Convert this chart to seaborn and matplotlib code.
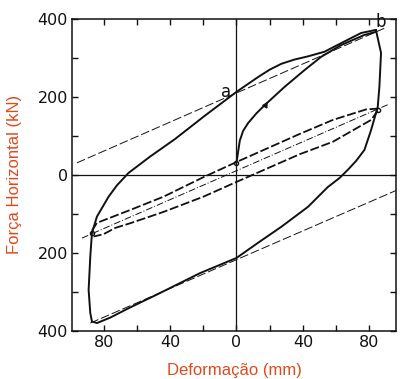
import matplotlib
matplotlib.use("Agg")
import matplotlib.pyplot as plt
import seaborn as sns
import pandas as pd
from matplotlib.ticker import FuncFormatter

# --- data (mm, kN)
# first loading, origin -> b
load_x = [0, 1, 2, 4, 7, 12, 17, 29, 41, 51, 63, 77, 84]
load_y = [31, 60, 88, 113, 133, 158, 179, 226, 269, 303, 333, 359, 367]

# large hysteresis loop, starting at b
loop_x = [84, 75, 63, 53, 43, 35, 27, 20, 13, 0, -19, -37, -52, -65, -72, -77, -84, -87,
          -88, -89, -88, -87, -84, -76, -65, -47, -22, 0, 13, 27, 43, 55, 62, 67,
          72, 77, 81, 85, 86, 87, 84]
loop_y = [372, 364, 338, 316, 304, 296, 285, 270, 251, 213, 152, 92, 47, 5, -27, -56, -107, -149,
          -210, -295, -354, -376, -380, -366, -342, -305, -252, -213, -174, -133, -82, -31, -8, 13,
          36, 64, 115, 174, 226, 313, 370]

# small (dashed) loop
inner_up_x = [-87, -84, -64, -44, -20, 0, 38, 58, 78, 85]
inner_up_y = [-143, -123, -90, -56, -6, 33, 105, 141, 168, 170]
inner_lo_x = [85, 81, 58, 38, 0, -20, -44, -64, -73, -80, -86]
inner_lo_y = [165, 141, 85, 53, -18, -56, -95, -124, -136, -152, -158]

# thin reference lines
ref_top_x, ref_top_y = [-96, 90], [31, 378]
ref_mid_x, ref_mid_y = [-93, 91], [-162, 180]
ref_bot_x, ref_bot_y = [-88, 96], [-380, -40]

label_a = (-6, 212)
label_b = (87, 392)

sns.set_style("ticks")
plt.rcParams['font.family'] = ['DejaVu Sans']

fig = plt.figure(figsize=(4.0, 3.79), dpi=100)
ax = fig.add_axes([0.18, 0.127, 0.81, 0.823])

ink = "#111111"

ax.axhline(0, color=ink, lw=0.9)
ax.axvline(0, color=ink, lw=0.9)

def draw(xs, ys, **kw):
    df = pd.DataFrame({"x": xs, "y": ys})
    sns.lineplot(data=df, x="x", y="y", sort=False, estimator=None, ax=ax, **kw)

# reference lines
for xs, ys in [(ref_top_x, ref_top_y), (ref_bot_x, ref_bot_y)]:
    draw(xs, ys, color=ink, lw=0.7, linestyle=(0, (9, 3)))
draw(ref_mid_x, ref_mid_y, color=ink, lw=0.7, linestyle=(0, (7, 2, 1, 2)))

# loops
draw(loop_x, loop_y, color=ink, lw=1.4)
draw(load_x, load_y, color=ink, lw=1.4)
draw(inner_up_x, inner_up_y, color=ink, lw=1.3, linestyle=(0, (5, 1.5)))
draw(inner_lo_x, inner_lo_y, color=ink, lw=1.3, linestyle=(0, (5, 1.5)))

ax.plot([17], [180], marker=(3, 0, -30), color=ink, ms=4)
ax.plot([-87, 85, 0], [-150, 167, 31], 'o', color=ink, ms=3, mfc='none', mew=1)

ax.text(*label_a, "a", fontsize=12, ha="center", va="center", color=ink)
ax.text(*label_b, "b", fontsize=12, ha="center", va="center", color=ink)

ax.set_xlim(-99, 96)
ax.set_ylim(-400, 400)
ax.set_xticks(range(-80, 81, 20))
ax.set_yticks(range(-400, 401, 100))
xfmt = lambda v, p: f"{abs(int(v))}" if int(v) % 40 == 0 else ""
yfmt = lambda v, p: f"{abs(int(v))}" if int(v) % 200 == 0 else ""
ax.xaxis.set_major_formatter(FuncFormatter(xfmt))
ax.yaxis.set_major_formatter(FuncFormatter(yfmt))
ax.tick_params(direction="in", length=4, width=1, top=True, right=True,
               labelsize=11.5, colors=ink, pad=3)
for s in ax.spines.values():
    s.set_linewidth(1.1)
    s.set_color(ink)

red = "#E04A1C"
ax.set_xlabel("Deformação (mm)", color=red, fontsize=12, family="Liberation Sans", labelpad=9)
ax.set_ylabel("Força Horizontal (kN)", color=red, fontsize=12, family="Liberation Sans", labelpad=11)

fig.savefig("out.png", dpi=100)
